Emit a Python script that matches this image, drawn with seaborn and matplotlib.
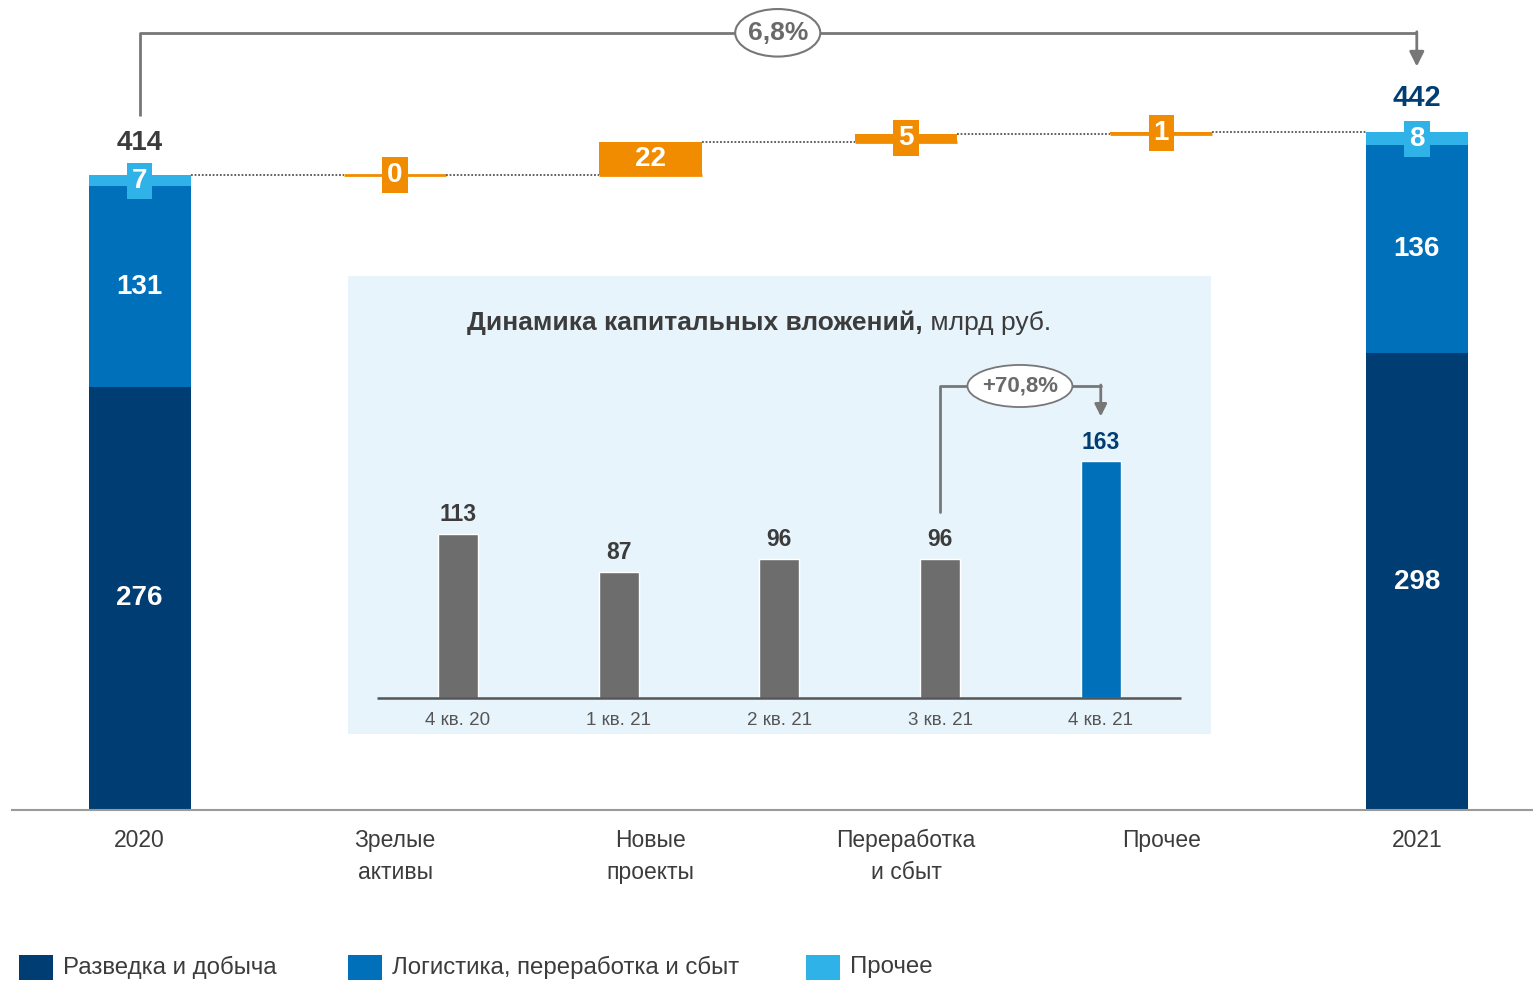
import numpy as np
import pandas as pd
import matplotlib
matplotlib.use("Agg")
import matplotlib.pyplot as plt
from matplotlib.patches import Ellipse, Rectangle
import seaborn as sns

# main waterfall data
categories = ['2020', 'Зрелые\nактивы', 'Новые\nпроекты', 'Переработка\nи сбыт', 'Прочее', '2021']
explore = [276, 298]
logistics = [131, 136]
other = [7, 8]
totals = [414, 442]
increments = [0, 22, 5, 1]
growth_label = '6,8%'

# inset data
quarters = ['4 кв. 20', '1 кв. 21', '2 кв. 21', '3 кв. 21', '4 кв. 21']
capex = [113, 87, 96, 96, 163]
inset_growth = '+70,8%'

legend_labels = ['Разведка и добыча', 'Логистика, переработка и сбыт', 'Прочее']

NAVY = '#003d73'
BLUE = '#0070ba'
LIGHT = '#2fb2e8'
ORANGE = '#f18c00'
GREY_BAR = '#6d6d6d'
TXT = '#3c3c3c'
ARROW = '#777777'
INSET_BG = '#e8f4fb'

sns.set_theme(style='white')
plt.rcParams['font.family'] = ['Liberation Sans Narrow', 'Liberation Sans', 'DejaVu Sans']

fig = plt.figure(figsize=(15.33, 9.81), dpi=100)
fig.patch.set_facecolor('white')

ax = fig.add_axes([12 / 1533, 1 - 810 / 981, 1 - 12 / 1533, 810 / 981])
ax.set_facecolor('none')
x = np.arange(len(categories))
w = 0.40
VAL_FS = 20
box_kw = dict(boxstyle='square,pad=0.18', ec='none')

# stacked totals
ends = [0, len(categories) - 1]
for i, xi in enumerate(ends):
    ax.bar(xi, explore[i], width=w, color=NAVY, linewidth=0)
    ax.bar(xi, logistics[i], width=w, bottom=explore[i], color=BLUE, linewidth=0)
    ax.bar(xi, other[i], width=w, bottom=explore[i] + logistics[i], color=LIGHT, linewidth=0)
    ax.text(xi, explore[i] / 2, str(explore[i]), ha='center', va='center',
            color='white', fontsize=VAL_FS, fontweight='bold')
    ax.text(xi, explore[i] + logistics[i] / 2, str(logistics[i]), ha='center', va='center',
            color='white', fontsize=VAL_FS, fontweight='bold')
    ax.text(xi, explore[i] + logistics[i] + other[i] / 2, str(other[i]), ha='center', va='center',
            color='white', fontsize=VAL_FS, fontweight='bold', bbox=dict(fc=LIGHT, **box_kw))

ax.annotate(str(totals[0]), (0, totals[0]), xytext=(0, 23), textcoords='offset points',
            ha='center', va='center', fontsize=VAL_FS, fontweight='bold', color=TXT)
ax.annotate(str(totals[1]), (ends[1], totals[1]), xytext=(0, 25), textcoords='offset points',
            ha='center', va='center', fontsize=21, fontweight='bold', color=NAVY)

# increments
level = totals[0]
levels = [level]
for j, v in enumerate(increments):
    xi = j + 1
    ax.hlines(level, xi - w / 2, xi + w / 2, color=ORANGE, lw=2)
    if v > 0:
        ax.bar(xi, v, width=w, bottom=level, color=ORANGE, linewidth=0)
    box = None if v > 10 else dict(fc=ORANGE, **box_kw)
    ax.text(xi, level + v / 2, str(v), ha='center', va='center', color='white',
            fontsize=VAL_FS, fontweight='bold', bbox=box)
    level += v
    levels.append(level)

# dotted connectors
for k in range(len(categories) - 1):
    ax.hlines(levels[k], x[k] + w / 2, x[k + 1] - w / 2, color='#555555', lw=1.3,
              linestyles=(0, (1, 1)))

# top bracket with growth
yb = 507
ax.plot([0, 0, 5], [453, yb, yb], color=ARROW, lw=2, solid_capstyle='butt')
ax.annotate('', xy=(5, 485), xytext=(5, yb + 0.7),
            arrowprops=dict(arrowstyle='-|>', color=ARROW, lw=2, mutation_scale=22,
                            shrinkA=0, shrinkB=0))
ax.add_patch(Ellipse((2.498, yb), 0.333, 31, fc='white', ec=ARROW, lw=1.5, zorder=5))
ax.text(2.498, yb, growth_label, ha='center', va='center', fontsize=19, fontweight='bold',
        color='#6a6a6a', zorder=6)

# category labels
for xi, lab in zip(x, categories):
    ax.text(xi, -12.4, lab, ha='center', va='top', fontsize=16.5, color=TXT, linespacing=1.5,
            clip_on=False)

ax.set_xlim(-0.5, 5.455)
ax.set_ylim(0, 528.4)
ax.set_xticks([])
ax.set_yticks([])
for s in ['top', 'right', 'left']:
    ax.spines[s].set_visible(False)
ax.spines['bottom'].set_color('#9a9a9a')
ax.spines['bottom'].set_linewidth(1.5)

# inset chart
axi = fig.add_axes([348 / 1533, 1 - 734 / 981, (1211 - 348) / 1533, (734 - 276) / 981])
axi.set_facecolor(INSET_BG)
df = pd.DataFrame({'q': quarters, 'v': capex})
bar_colors = [GREY_BAR] * (len(quarters) - 1) + [BLUE]
sns.barplot(data=df, x='q', y='v', hue='q', palette=bar_colors, legend=False,
            width=0.25, saturation=1, ax=axi)
axi.set_xlim(-0.6845, 4.686)
axi.set_ylim(-24.8, 290.8)
axi.set_xlabel('')
axi.set_ylabel('')
axi.set_xticks([])
axi.set_yticks([])
for s in axi.spines.values():
    s.set_visible(False)
axi.hlines(0, -0.504, 4.499, color='#555555', lw=1.8)
for i, (q, v) in enumerate(zip(quarters, capex)):
    axi.text(i, -15.2, q, ha='center', va='center', fontsize=13.5, color='#555555')
    axi.annotate(str(v), (i, v), xytext=(0, 14), textcoords='offset points', ha='center',
                 va='center', fontsize=16.5, fontweight='bold',
                 color=NAVY if i == len(capex) - 1 else TXT)

t1 = axi.text(0.056, 258.4, 'Динамика капитальных вложений,', ha='left', va='center',
              fontsize=19, fontweight='bold', color=TXT)
axi.annotate(' млрд руб.', xy=(1, 0), xycoords=t1, ha='left', va='bottom', fontsize=19,
             color=TXT)

yi = 215
axi.plot([3, 3, 4], [128, yi, yi], color=ARROW, lw=2)
axi.annotate('', xy=(4, 194), xytext=(4, yi + 0.7),
             arrowprops=dict(arrowstyle='-|>', color=ARROW, lw=2, mutation_scale=18,
                             shrinkA=0, shrinkB=0))
axi.add_patch(Ellipse((3.497, yi), 0.653, 29, fc='white', ec=ARROW, lw=1.3, zorder=5))
axi.text(3.497, yi, inset_growth, ha='center', va='center', fontsize=16, fontweight='bold',
         color='#6a6a6a', zorder=6)

# legend
leg_x = [19, 348, 806]
for lx, lab, col in zip(leg_x, legend_labels, [NAVY, BLUE, LIGHT]):
    fig.patches.append(Rectangle((lx / 1533, 1 - 980 / 981), 34 / 1533, 25 / 981,
                                 transform=fig.transFigure, fc=col, ec='none'))
    fig.text((lx + 44) / 1533, 1 - 967 / 981, lab, ha='left', va='center', fontsize=17.3,
             color=TXT)

fig.savefig('out.png', dpi=100, facecolor='white')
